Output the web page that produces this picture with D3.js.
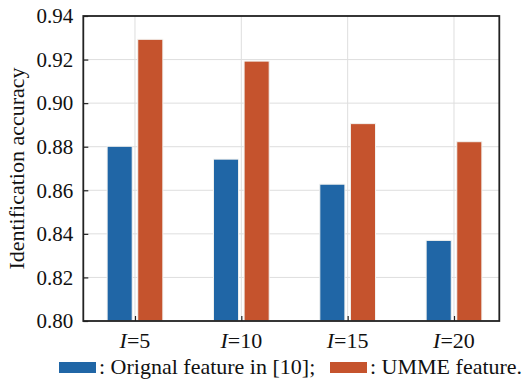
<!DOCTYPE html>
<html>
<head>
<meta charset="utf-8">
<script src="https://cdn.jsdelivr.net/npm/d3@7"></script>
<style>
  html, body { margin: 0; padding: 0; background: #fff; }
  svg { display: block; }
  svg text { font-family: "Liberation Serif", "Times New Roman", serif; }
</style>
</head>
<body>
<svg id="chart" width="522" height="380"></svg>
<script>
// Identification accuracy for each I setting, two feature types
const categories = ["5", "10", "15", "20"];
const originalFeature = [0.8802, 0.8743, 0.8628, 0.8370];
const ummeFeature = [0.9293, 0.9193, 0.8906, 0.8823];
const yTicks = [0.80, 0.82, 0.84, 0.86, 0.88, 0.90, 0.92, 0.94];
const seriesNames = [": Orignal feature in [10];", ": UMME feature."];
const seriesColors = ["#2066a6", "#c5532d"];

const serif = "Liberation Serif";
const svg = d3.select("#chart");
const plotLeft = 83.3, plotRight = 499.3, plotTop = 16, plotBottom = 321;

const x = d3.scaleLinear().domain([0.514, 4.426]).range([plotLeft, plotRight]);
const y = d3.scaleLinear().domain([0.80, 0.94]).range([plotBottom, plotTop]);
const unit = x(2) - x(1);
const barOffset = 0.144, barWidth = 0.236;

// grid
const grid = svg.append("g").attr("stroke", "#dedede").attr("stroke-width", 1);
grid.selectAll("line.h").data(yTicks).join("line")
  .attr("x1", plotLeft).attr("x2", plotRight)
  .attr("y1", d => y(d)).attr("y2", d => y(d));
grid.selectAll("line.v").data(categories).join("line")
  .attr("x1", (d, i) => x(i + 1)).attr("x2", (d, i) => x(i + 1))
  .attr("y1", plotTop).attr("y2", plotBottom);

// bars
const series = [originalFeature, ummeFeature];
series.forEach((vals, s) => {
  const off = s === 0 ? -barOffset : barOffset;
  svg.append("g").selectAll("rect").data(vals).join("rect")
    .attr("x", (d, i) => x(i + 1 + off - barWidth / 2))
    .attr("width", barWidth * unit)
    .attr("y", d => y(d))
    .attr("height", d => y(0.80) - y(d))
    .attr("fill", seriesColors[s])
    .attr("stroke", "#f3f3f0")
    .attr("stroke-width", 1);
});

// axes
const yAxis = d3.axisLeft(y).tickValues(yTicks).tickFormat(d3.format(".2f")).tickSizeInner(-5).tickSizeOuter(0).tickPadding(10);
const gy = svg.append("g").attr("transform", `translate(${plotLeft},0)`).call(yAxis)
  .attr("font-family", serif).attr("font-size", 21);
gy.selectAll("text").attr("fill", "#111");
gy.selectAll("line").attr("stroke", "#222").attr("stroke-width", 1.2);
gy.select(".domain").remove();

const xAxis = d3.axisBottom(x).tickValues([1, 2, 3, 4]).tickFormat("").tickSizeInner(-5).tickSizeOuter(0);
const gx = svg.append("g").attr("transform", `translate(0,${plotBottom})`).call(xAxis);
gx.selectAll("line").attr("stroke", "#222").attr("stroke-width", 1.2);
gx.select(".domain").remove();

// x labels with italic I
const xl = svg.append("g").selectAll("text").data(categories).join("text")
  .attr("x", (d, i) => x(i + 1))
  .attr("y", 348)
  .attr("text-anchor", "middle")
  .attr("font-family", serif)
  .attr("font-size", 22)
  .attr("fill", "#111");
xl.append("tspan").attr("font-style", "italic").text("I");
xl.append("tspan").text(d => "=" + d);

// frame
svg.append("rect")
  .attr("x", plotLeft).attr("y", plotTop)
  .attr("width", plotRight - plotLeft).attr("height", plotBottom - plotTop)
  .attr("fill", "none").attr("stroke", "#222").attr("stroke-width", 1.8);

// y title
svg.append("text")
  .attr("transform", `translate(24,${(plotTop + plotBottom) / 2}) rotate(-90)`)
  .attr("text-anchor", "middle")
  .attr("font-family", serif)
  .attr("font-size", 22)
  .attr("fill", "#111")
  .text("Identification accuracy");

// legend
const legendX = [59, 330];
seriesNames.forEach((name, s) => {
  svg.append("rect")
    .attr("x", legendX[s]).attr("y", 362)
    .attr("width", 37).attr("height", 11)
    .attr("fill", seriesColors[s]);
  svg.append("text")
    .attr("x", legendX[s] + 40).attr("y", 374)
    .attr("font-family", serif)
    .attr("font-size", 22)
    .attr("fill", "#111")
    .text(name);
});
</script>
</body>
</html>
